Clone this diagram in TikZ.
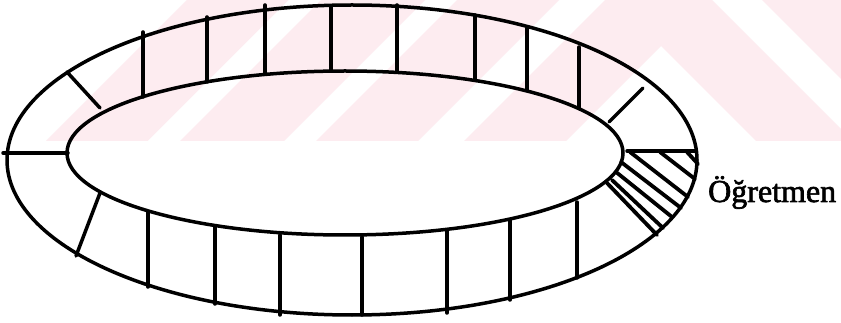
\documentclass[tikz,border=0pt]{standalone}
\usepackage{fontspec}
\setmainfont{Liberation Serif}
\newfontfamily\labelfont[FakeBold=2]{Liberation Serif}
\definecolor{wm}{RGB}{253,236,240}
\begin{document}
\begin{tikzpicture}[x=1pt,y=-1pt,line cap=round,line join=round,
  ringline/.style={line width=3.5pt},
  spoke/.style={line width=3.5pt},
  hatchline/.style={line width=3.8pt},
  wmark/.style={fill=wm,draw=none}]
\useasboundingbox (0,0) rectangle (841,323);
\fill[white] (0,0) rectangle (841,323);
% faint watermark
\begin{scope}
\clip (0,0) rectangle (841,141);
\fill[wmark] (46,141) -- (147.5,141) -- (288.5,0) -- (187,0) -- cycle;
\fill[wmark] (180,141) -- (284,141) -- (425,0) -- (321,0) -- cycle;
\fill[wmark] (316,141) -- (418,141) -- (559,0) -- (457,0) -- cycle;
\fill[wmark] (464,141) -- (605,0) -- (712,0) -- (853,141) -- (756,141) -- (661,46) -- (566,141) -- cycle;
\fill[wmark] (762,0) -- (900,0) -- (1041,141) -- (903,141) -- cycle;
\end{scope}
% ring
\coordinate (oc) at (352,160);
\coordinate (ic) at (345,153);
\draw[ringline] (oc) ellipse [x radius=345, y radius=155];
\draw[ringline] (ic) ellipse [x radius=278, y radius=82];
% upper spokes
\draw[spoke] (3,153) -- (68,153);
\draw[spoke] (67,72) -- (100,108);
\draw[spoke] (143,32) -- (143,97);
\draw[spoke] (207,17) -- (207,82);
\draw[spoke] (265,5) -- (265,73);
\draw[spoke] (331,7) -- (331,71);
\draw[spoke] (397,5) -- (397,72);
\draw[spoke] (475,15) -- (475,79);
\draw[spoke] (527,28) -- (527,90);
\draw[spoke] (579,47) -- (579,108);
\draw[spoke] (643,88) -- (609,122);
\draw[spoke] (627,151) -- (695,151);
% lower spokes
\draw[spoke] (100,193) -- (76,256);
\draw[spoke] (148,212) -- (148,287);
\draw[spoke] (215,227) -- (215,304);
\draw[spoke] (280,235) -- (280,315);
\draw[spoke] (362,237) -- (362,315);
\draw[spoke] (447,230) -- (447,313);
\draw[spoke] (510,220) -- (510,300);
\draw[spoke] (577,202) -- (577,278);
% hatched cell (teacher)
\draw[hatchline] (607,183) -- (657,235);
\draw[hatchline] (612,180) -- (663,228);
\draw[hatchline] (616,172) -- (672,217);
\draw[hatchline] (621,162) -- (681,208);
\draw[hatchline] (630,152) -- (688,197);
\draw[hatchline] (660,152) -- (695,179);
\draw[hatchline] (687,152) -- (698,164);
% label
\node[anchor=base west,inner sep=0pt,font=\labelfont\fontsize{32}{38}\selectfont] (lbl) at (708,202) {Öğretmen};
\end{tikzpicture}
\end{document}
